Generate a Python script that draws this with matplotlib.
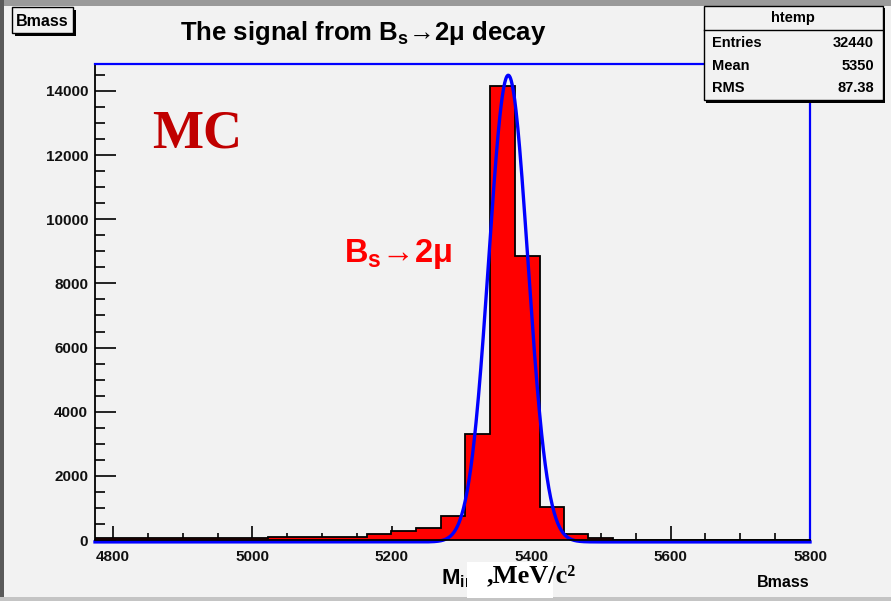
import numpy as np
import matplotlib
matplotlib.use("Agg")
import matplotlib.pyplot as plt
from matplotlib.patches import Rectangle
from matplotlib.ticker import MultipleLocator

# ------------------------------------------------------------
# data
# ------------------------------------------------------------
bin_edges = [4774, 4809, 4845, 4880, 4916, 4951, 4987, 5022, 5057, 5093,
             5128, 5164, 5199, 5235, 5270, 5305, 5341, 5376, 5412, 5447,
             5482, 5518, 5553, 5589, 5624, 5659, 5695, 5730, 5766, 5800]
bin_counts = [50, 50, 50, 50, 50, 50, 50, 100, 100, 100,
              100, 180, 290, 370, 750, 3300, 14150, 8850, 1030, 200,
              70, 0, 0, 0, 0, 0, 0, 0, 0]

# gaussian fit drawn in blue
fit_amp = 14550
fit_mean = 5367
fit_sigma = 28.0

stats_names = ["Entries", "Mean", "RMS"]
stats_values = ["32440", "5350", "87.38"]

x_min, x_max = 4774, 5800
y_max = 14840

SANS = ["Liberation Sans", "DejaVu Sans"]
SERIF = ["Liberation Serif", "DejaVu Serif"]
BG = "#f2f2f2"

W, H = 891, 601
fig = plt.figure(figsize=(W / 100, H / 100), dpi=100, facecolor=BG)


def fx(px):
    return px / W


def fy(py):
    return 1 - py / H


# slide border (grey frame of the screenshot)
fig.patches.append(Rectangle((0, fy(6)), 1, 6 / H, transform=fig.transFigure,
                             facecolor="#9a9a9a", edgecolor="none", zorder=0))
fig.patches.append(Rectangle((0, 0), fx(4), 1, transform=fig.transFigure,
                             facecolor="#5a5a5a", edgecolor="none", zorder=0))
fig.patches.append(Rectangle((0, 0), 1, 4 / H, transform=fig.transFigure,
                             facecolor="#c4c4c4", edgecolor="none", zorder=0))

ax = fig.add_axes([fx(95), fy(540), fx(810) - fx(95), fy(64) - fy(540)])
ax.set_facecolor(BG)

# histogram
ax.stairs(bin_counts, bin_edges, fill=True, color="#ff0000", zorder=2)
ax.stairs(bin_counts, bin_edges, color="black", linewidth=1.3, zorder=3)

# fit curve
xs = np.linspace(x_min, x_max, 1200)
ys = fit_amp * np.exp(-0.5 * ((xs - fit_mean) / fit_sigma) ** 2)
ax.plot(xs, ys - 60, color="#0000ff", linewidth=2.4, zorder=4, clip_on=False)

ax.set_xlim(x_min, x_max)
ax.set_ylim(0, y_max)

ax.xaxis.set_major_locator(MultipleLocator(200))
ax.xaxis.set_minor_locator(MultipleLocator(50))
ax.yaxis.set_major_locator(MultipleLocator(2000))
ax.yaxis.set_minor_locator(MultipleLocator(500))
ax.tick_params(axis="x", which="major", direction="in", length=10, width=1.2, pad=7)
ax.tick_params(axis="x", which="minor", direction="in", length=5, width=1.2)
ax.tick_params(axis="y", which="major", direction="in", length=15, width=1.2, pad=5)
ax.tick_params(axis="y", which="minor", direction="in", length=7, width=1.2)
ax.tick_params(top=False, right=False, which="both")
for lab in ax.get_xticklabels() + ax.get_yticklabels():
    lab.set_family(SANS)
    lab.set_fontweight("bold")
    lab.set_fontsize(11)
    lab.set_color("#111111")

ax.spines["left"].set_linewidth(1.3)
ax.spines["bottom"].set_linewidth(1.3)
ax.spines["bottom"].set_zorder(5)
ax.spines["top"].set_color("#0000ff")
ax.spines["right"].set_color("#0000ff")
ax.spines["top"].set_linewidth(1.6)
ax.spines["right"].set_linewidth(1.6)

# "Bmass" name box, top left
fig.patches.append(Rectangle((fx(15), fy(36)), fx(61), 26 / H,
                             transform=fig.transFigure, facecolor="black",
                             edgecolor="none", zorder=5))
fig.patches.append(Rectangle((fx(12), fy(33)), fx(61), 26 / H,
                             transform=fig.transFigure, facecolor=BG,
                             edgecolor="black", linewidth=1.0, zorder=6))
fig.text(fx(42.5), fy(21), "Bmass", ha="center", va="center", fontsize=11.5,
         fontweight="bold", family=SANS, zorder=7)

# title
fig.text(fx(180), fy(40), r"The signal from $\mathregular{B_s}$→2μ decay",
         ha="left", va="baseline", fontsize=18.5, fontweight="bold",
         family=SANS, zorder=7)

# statistics box, top right
fig.patches.append(Rectangle((fx(706), fy(103)), fx(179), 95 / H,
                             transform=fig.transFigure, facecolor="black",
                             edgecolor="none", zorder=5))
fig.patches.append(Rectangle((fx(704), fy(100)), fx(179), 94 / H,
                             transform=fig.transFigure, facecolor=BG,
                             edgecolor="black", linewidth=1.0, zorder=6))
fig.add_artist(plt.Line2D([fx(704), fx(883)], [fy(30), fy(30)],
                          transform=fig.transFigure, color="black",
                          linewidth=1.0, zorder=7))
fig.text(fx(793), fy(18), "htemp", ha="center", va="center", fontsize=10.5,
         fontweight="bold", family=SANS, zorder=7)
for i, (name, val) in enumerate(zip(stats_names, stats_values)):
    yy = fy(43 + i * 22.5)
    fig.text(fx(712), yy, name, ha="left", va="center", fontsize=10.5,
             fontweight="bold", family=SANS, zorder=7)
    fig.text(fx(874), yy, val, ha="right", va="center", fontsize=10.5,
             fontweight="bold", family=SANS, zorder=7)

# annotations inside the frame
fig.text(fx(152), fy(147), "MC", ha="left", va="baseline", fontsize=39,
         fontweight="bold", color="#c00000", family=SERIF, zorder=7)
fig.text(fx(344), fy(262), r"$\mathregular{B_s}$→2μ", ha="left",
         va="baseline", fontsize=23.5, fontweight="bold", color="#ff0000",
         family=SANS, zorder=7)

# x axis titles
fig.text(fx(441), fy(584), r"$\mathregular{M_{in}}$", ha="left",
         va="baseline", fontsize=16, fontweight="bold", family=SANS,
         zorder=7)
fig.patches.append(Rectangle((fx(467), fy(598)), fx(86), fy(562) - fy(598),
                             transform=fig.transFigure, facecolor="white",
                             edgecolor="none", zorder=8))
fig.text(fx(487), fy(582), ",MeV/c²", ha="left", va="baseline",
         fontsize=19, fontweight="bold", family=SERIF, zorder=9)
fig.text(fx(810), fy(587), "Bmass", ha="right", va="baseline", fontsize=11.5,
         fontweight="bold", family=SANS, zorder=7)

fig.savefig("out.png", dpi=100, facecolor=BG)
